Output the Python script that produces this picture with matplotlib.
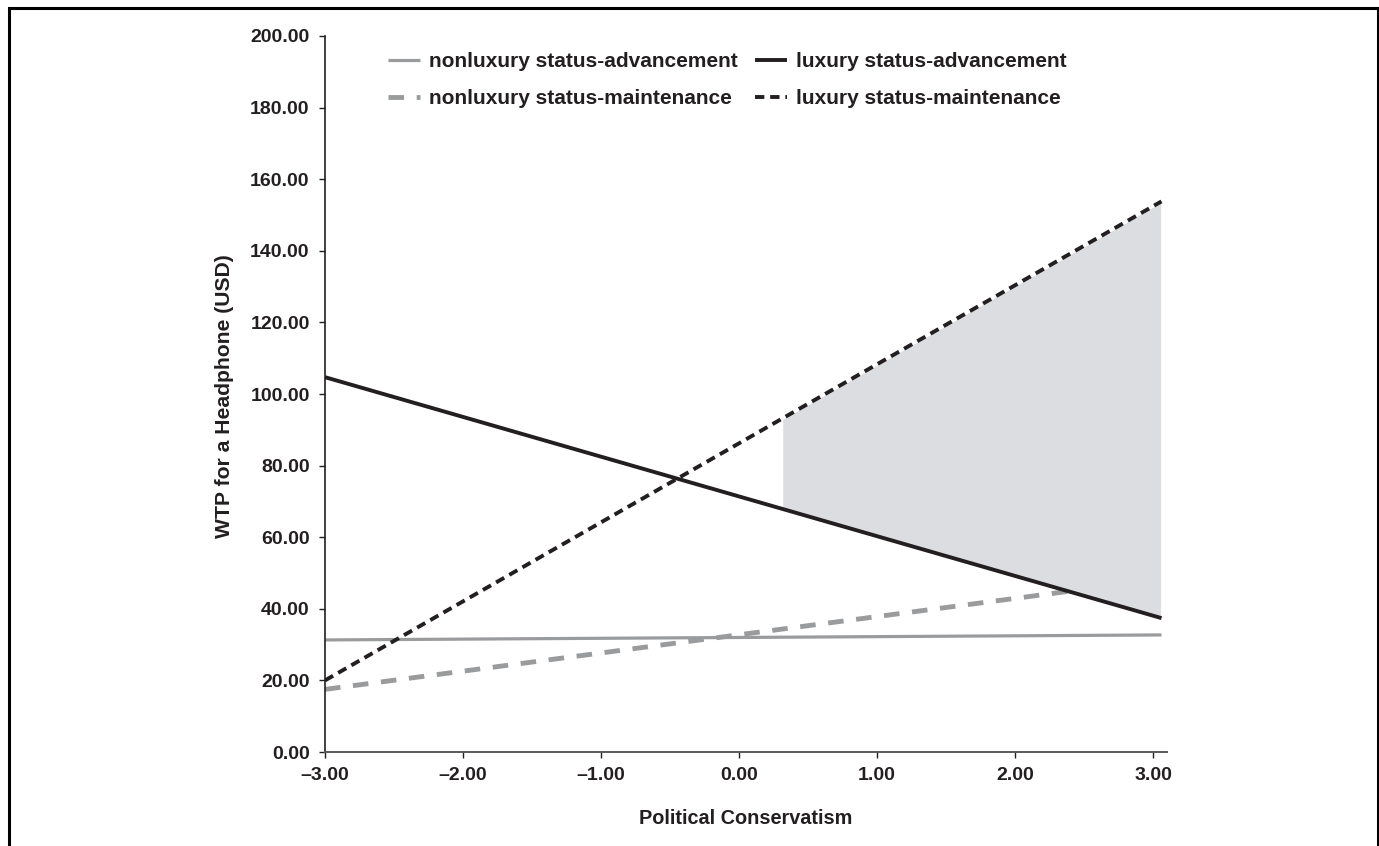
import numpy as np
import matplotlib
matplotlib.use('Agg')
import matplotlib.pyplot as plt
from matplotlib.patches import Rectangle
from matplotlib.ticker import FuncFormatter

# political conservatism range of the simple slopes
x_ends = [-3.0, 3.06]

# predicted WTP at both ends
nonlux_adv = [31.3, 32.7]
lux_adv = [104.7, 37.4]
nonlux_maint = [17.5, 48.3]
lux_maint = [20.0, 153.8]

# region of significance (luxury maintenance vs advancement)
sig_start = 0.31

x_ticks = [-3, -2, -1, 0, 1, 2, 3]
y_ticks = [0, 20, 40, 60, 80, 100, 120, 140, 160, 180, 200]

dark = '#231f20'
gray = '#9a9b9d'
shade = '#dcdde0'

plt.rcParams['font.family'] = ['Liberation Sans', 'DejaVu Sans']
plt.rcParams['font.weight'] = 'bold'

fig = plt.figure(figsize=(13.79, 8.46), dpi=100)
ax = fig.add_axes([325 / 1379, 94 / 846, 842 / 1379, 716 / 846])

# shaded region between the two luxury lines
xs = np.array([sig_start, x_ends[1]])
lo = np.interp(xs, x_ends, lux_adv)
hi = np.interp(xs, x_ends, lux_maint)
ax.fill_between(xs, lo, hi, color=shade, edgecolor='white', linewidth=1.2,
                zorder=3)

ax.plot(x_ends, nonlux_adv, color=gray, lw=2.3, solid_capstyle='butt',
        zorder=2, label='nonluxury status-advancement')
ax.plot(x_ends, nonlux_maint, color=gray, lw=3.5, dashes=(3.2, 2.6),
        zorder=2, label='nonluxury status-maintenance')
ax.plot(x_ends, lux_adv, color=dark, lw=2.8, solid_capstyle='butt',
        zorder=4, label='luxury status-advancement')
ax.plot(x_ends, lux_maint, color=dark, lw=2.8, dashes=(2.4, 1.5),
        zorder=4, label='luxury status-maintenance')

ax.set_xlim(-3, 3.1)
ax.set_ylim(0, 200)
ax.set_xticks(x_ticks)
ax.set_yticks(y_ticks)
ax.xaxis.set_major_formatter(FuncFormatter(
    lambda v, p: ('\u2013%.2f' % abs(v)) if v < 0 else '%.2f' % v))
ax.yaxis.set_major_formatter(FuncFormatter(lambda v, p: '%.2f' % v))

for s in ['top', 'right']:
    ax.spines[s].set_visible(False)
ax.spines['left'].set_color(dark)
ax.spines['left'].set_linewidth(1.2)
ax.spines['bottom'].set_color('#58595b')
ax.spines['bottom'].set_linewidth(1.4)
ax.tick_params(direction='out', length=4, width=1, colors=dark,
               labelsize=14, pad=7)
for lab in ax.get_xticklabels() + ax.get_yticklabels():
    lab.set_fontweight('bold')

ax.set_xlabel('Political Conservatism', fontsize=14.3, fontweight='bold',
              color=dark, labelpad=18)
ax.set_ylabel('WTP for a Headphone (USD)', fontsize=15.2, fontweight='bold',
              color=dark)
ax.yaxis.set_label_coords(-91 / 842, 0.497)

h, l = ax.get_legend_handles_labels()
leg = ax.legend(h, l, ncol=2,
                loc='upper left', bbox_to_anchor=(388 / 1379, 1 - 52 / 846),
                bbox_transform=fig.transFigure, frameon=False, fontsize=15,
                handlelength=1.55, handletextpad=0.4, columnspacing=0.85,
                labelspacing=0.88, borderpad=0, borderaxespad=0)
for t in leg.get_texts():
    t.set_color(dark)
    t.set_fontweight('bold')

# outer frame of the figure (bottom edge falls off the canvas)
fig.patches.append(Rectangle((8.5 / 1379, -0.05), 1369.5 / 1379,
                             1.05 - 8.5 / 846, transform=fig.transFigure,
                             fill=False, edgecolor='black', lw=2.2))

fig.savefig('out.png', dpi=100)
